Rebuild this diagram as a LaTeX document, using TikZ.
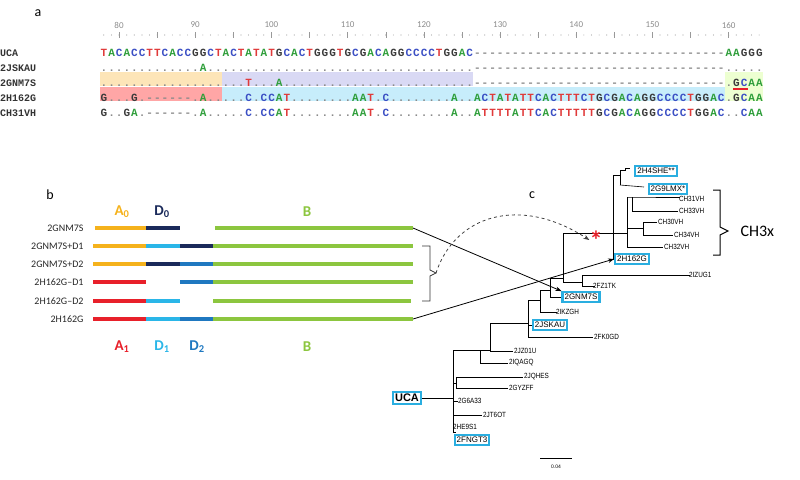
\documentclass[tikz,border=0pt]{standalone}
\usepackage{fontspec}
\setmainfont{Carlito}
\newfontfamily\seqf{Liberation Mono}
\newfontfamily\trf{Liberation Sans}
\usetikzlibrary{arrows.meta,decorations.pathreplacing}
\definecolor{nA}{HTML}{2E9E3A}\definecolor{nC}{HTML}{3B4FC4}
\definecolor{nG}{HTML}{3A3A3A}\definecolor{nT}{HTML}{E03A3A}
\definecolor{ndot}{HTML}{8A8A8A}
\definecolor{colY}{HTML}{F5B21C}\definecolor{colN}{HTML}{1A2A5A}
\definecolor{colL}{HTML}{2AB6E8}\definecolor{colM}{HTML}{1F78C0}
\definecolor{colR}{HTML}{E8202A}\definecolor{colG}{HTML}{8CC63F}
\definecolor{cbox}{HTML}{2AAEE0}
\newcommand\sqc[1]{\makebox[7.62pt]{\ifx A#1\color{nA}\else\ifx C#1\color{nC}\else\ifx G#1\color{nG}\else\ifx T#1\color{nT}\else\color{ndot}\fi\fi\fi\fi #1}}
\def\sqloop#1{\ifx\relax#1\else\sqc{#1}\expandafter\sqloop\fi}
\newcommand\sqrun[1]{\sqloop#1\relax}
\newcommand\sqrep[2]{\foreach \ii in {1,...,#1}{\sqc{#2}}}
\begin{document}
\begin{tikzpicture}[x=1pt,y=-1pt,
  seq/.style={anchor=base west,inner sep=0,font=\seqf\bfseries\fontsize{11}{11}\selectfont},
  rl/.style={anchor=base west,inner sep=0,font=\seqf\bfseries\fontsize{10}{10}\selectfont,text=black!80},
  bar/.style={line width=4pt},
  bl/.style={anchor=east,font=\fontsize{10}{10}\selectfont,text=black!85},
  hd/.style={font=\bfseries\fontsize{15}{15}\selectfont},
  tl/.style={anchor=west,inner sep=1pt,font=\trf\fontsize{7.5}{7.5}\selectfont,xscale=0.85},
  bx/.style={draw=cbox,line width=2.2pt,inner sep=2pt,fill=white,font=\trf\fontsize{8}{8}\selectfont},
  br/.style={line width=0.6pt}]
\useasboundingbox (0,0) rectangle (800,479);
% ---------- panel a
\node[font=\fontsize{14}{14}\selectfont] (la) at (38,13) {a};
\fill[yellow!25!orange!25] (100,72) rectangle (221.9,86);
\fill[black!30!blue!15!white] (221.9,72) rectangle (473.4,86);
\fill[red!35] (100,87) rectangle (221.9,101);
\fill[cyan!22] (221.9,87) rectangle (724.8,101);
\fill[green!40!yellow!18] (724.8,72) rectangle (762.9,101);
\foreach \c in {78,...,164} \fill[black!35] (103.8+\c*7.62-78*7.62,35) circle (0.6);
\foreach \c in {80,85,...,160} \draw[black!40] (103.8+\c*7.62-78*7.62,32) -- ++(0,6);
\foreach \c in {80,90,...,160} \node[text=black!45,font=\fontsize{9}{9}\selectfont] at (103.8+\c*7.62-78*7.62,25) {\c};
\node[rl] (nUCA) at (0,56) {UCA};
\node[rl] (nJSK) at (0,71) {2JSKAU};
\node[rl] (nGNM) at (0,86) {2GNM7S};
\node[rl] (nH16) at (0,101) {2H162G};
\node[rl] (nCH) at (0,116) {CH31VH};
\node[seq] (sUCA) at (100,56) {\sqrun{TACACCTTCACCGGCTACTATATGCACTGGGTGCGACAGGCCCCTGGAC}\sqrep{33}{-}\sqrun{AAGGG}};
\node[seq] (sJSK) at (100,71) {\sqrep{13}{.}\sqrun{A}\sqrep{35}{.}\sqrep{33}{-}\sqrep{5}{.}};
\node[seq] (sGNM) at (100,86) {\sqrep{16}{.}\sqrun{...T...A}\sqrep{25}{.}\sqrep{33}{-}\sqrun{.GCAA}};
\node[seq] (sH16) at (100,101) {\sqrun{G...G.------.A.....C.CCAT........AAT.C........A..ACTATATTCACTTTCTGCGACAGGCCCCTGGAC.GCAA}};
\node[seq] (sCH) at (100,116) {\sqrun{G..GA.------.A.....C.CCAT........AAT.C........A..ATTTTATTCACTTTTTGCGACAGGCCCCTGGAC..CAA}};
\draw[colR,line width=2pt] (733,89) -- (748,89);
% ---------- panel b
\node[font=\fontsize{14}{14}\selectfont] (lb) at (50,195) {b};
\node[hd,text=colY] (hA0) at (122,212) {A\textsubscript{0}};
\node[hd,text=colN] (hD0) at (162,212) {D\textsubscript{0}};
\node[hd,text=colG] (hB0) at (307,212) {B};
\node[hd,text=colR] (hA1) at (122,347) {A\textsubscript{1}};
\node[hd,text=colL] (hD1) at (162,347) {D\textsubscript{1}};
\node[hd,text=colM] (hD2) at (197,347) {D\textsubscript{2}};
\node[hd,text=colG] (hB1) at (307,347) {B};
\node[bl] (b1) at (87,228) {2GNM7S};
\node[bl] (b2) at (87,246) {2GNM7S+D1};
\node[bl] (b3) at (87,264) {2GNM7S+D2};
\node[bl] (b4) at (87,282) {2H162G--D1};
\node[bl] (b5) at (87,301) {2H162G--D2};
\node[bl] (b6) at (87,319) {2H162G};
\draw[bar,colY] (95,228)--(146,228); \draw[bar,colN] (146,228)--(180,228); \draw[bar,colG] (215,228)--(413,228);
\draw[bar,colY] (93,246)--(146,246); \draw[bar,colL] (146,246)--(180,246); \draw[bar,colN] (180,246)--(213,246); \draw[bar,colG] (213,246)--(413,246);
\draw[bar,colY] (93,264)--(146,264); \draw[bar,colN] (146,264)--(180,264); \draw[bar,colM] (180,264)--(213,264); \draw[bar,colG] (213,264)--(413,264);
\draw[bar,colR] (93,282)--(146,282); \draw[bar,colM] (180,282)--(213,282); \draw[bar,colG] (213,282)--(413,282);
\draw[bar,colR] (93,301)--(146,301); \draw[bar,colL] (146,301)--(180,301); \draw[bar,colG] (213,301)--(411,301);
\draw[bar,colR] (93,319)--(146,319); \draw[bar,colL] (146,319)--(180,319); \draw[bar,colM] (180,319)--(213,319); \draw[bar,colG] (213,319)--(413,319);
\coordinate (e1) at (413,228); \coordinate (e6) at (413,319);
\draw[black!80,line width=0.8pt] (422,246) -- (430,246) -- (430,270) -- (436,273) -- (430,276) -- (430,301) -- (422,301);
\coordinate (btip) at (436,273);
% ---------- panel c
\node[font=\fontsize{14}{14}\selectfont] (lc) at (532,195) {c};
\node[bx,font=\trf\bfseries\fontsize{11}{11}\selectfont] (bUCA) at (407,398) {UCA};
\node[bx] (bFNG) at (472,440) {2FNGT3};
\node[bx] (bJSK) at (550,325) {2JSKAU};
\node[bx] (bGNM) at (581,297) {2GNM7S};
\node[bx] (bH16) at (632,259) {2H162G};
\coordinate (pH4) at (630,168);
\coordinate (pG9) at (644,187);
\begin{scope}[br]
\draw (bUCA.east) -- (453,398);
\draw (453,350) -- (453,432) -- (456,432);
\node[tl] (t2HE) at (452,427) {2HE9S1};
\draw (453,415) -- (482,415); \node[tl] (tJT) at (482,415) {2JT6OT};
\draw (453,401) -- (458,401); \node[tl] (tG6) at (457,401) {2G6A33};
\draw (456,377) -- (456,388); \draw (453,383) -- (456,383);
\draw (456,388) -- (508,388); \node[tl] (tGY) at (508,388) {2GYZFF};
\draw (456,377) -- (523,377); \node[tl] (tJQ) at (523,377) {2JQHES};
\draw (453,350) -- (480,350);
\draw (480,350) -- (480,363) -- (508,363); \node[tl] (tIQ) at (508,363) {2IQAGQ};
\draw (480,350) -- (490,350); \draw (490,323) -- (490,351) -- (513,351); \node[tl] (tJZ) at (513,351) {2JZ01U};
\draw (490,323) -- (528,323);
\draw (528,300) -- (528,337) -- (593,337); \node[tl] (tFK) at (593,337) {2FK0GD};
\draw (528,325) -- (bJSK.west);
\draw (528,300) -- (540,300);
\draw (540,290) -- (540,312) -- (557,312);
\draw (540,290) -- (550,290);
\draw (550,278) -- (550,297) -- (bGNM.west);
\draw (550,278) -- (563,278);
\draw (563,233) -- (563,282) -- (582,282);
\draw (582,275) -- (582,286) -- (595,286); \node[tl] (tFZ) at (592,286) {2FZ1TK};
\draw (582,275) -- (690,275); \node[tl] (tZU) at (688,275) {2IZUG1};
\draw (563,233) -- (613,233);
\draw (613,175) -- (613,259) -- (bH16.west);
\draw (613,175) -- (620,175); \draw (620,170) -- (620,185);
\draw (620,170) -- (625,170) -- (625,168) -- (pH4);
\draw (620,185) -- (pG9);
\draw (613,233) -- (627,233);
\draw (627,197) -- (627,247);
\draw (627,197) -- (632,197) -- (680,197);
\draw (632,197) -- (632,211) -- (678,211); \node[tl] (tC33) at (678,211) {CH33VH};
\draw (627,228) -- (643,228); \draw (643,222) -- (643,235);
\draw (643,222) -- (657,222); \node[tl] (tC30) at (657,222) {CH30VH};
\draw (643,235) -- (673,235); \node[tl] (tC34) at (673,235) {CH34VH};
\draw (627,247) -- (663,247); \node[tl] (tC32) at (663,247) {CH32VH};
\end{scope}
\node[tl] (tC31) at (678,199) {CH31VH};
\node[tl] (tKZ) at (555,312) {2IKZGH};
\node[bx] (bH4) at (656,171) {2H4SHE**};
\node[bx] (bG9) at (668,189) {2G9LMX*};
\node[bx] (bJSK2) at (550,325) {2JSKAU};
\node[bx] (bGNM2) at (581,297) {2GNM7S};
\node[bx] (bFNG2) at (472,440) {2FNGT3};
\node[text=colR,font=\bfseries\fontsize{26}{26}\selectfont,inner sep=0] (ast) at (596,240) {*};
\draw[line width=1pt] (713,190) -- (720,190) -- (720,227) -- (728,231) -- (720,235) -- (720,255) -- (713,255);
\node[font=\fontsize{16}{16}\selectfont,anchor=west] (cx) at (737,231) {CH3x};
\draw[line width=0.8pt] (540,458) -- (572,458);
\node[font=\trf\fontsize{5}{5}\selectfont] (sb) at (556,467) {0.04};
% connectors
\draw[line width=0.8pt,-{Stealth[length=6pt]}] (e1) -- (bGNM.north west);
\draw[line width=0.8pt,-{Stealth[length=6pt]}] (e6) -- (bH16.west);
\draw[line width=0.8pt,dashed,black!75,-{Stealth[length=6pt]}] (btip) .. controls (455,215) and (520,195) .. (ast.west);
\end{tikzpicture}
\end{document}
